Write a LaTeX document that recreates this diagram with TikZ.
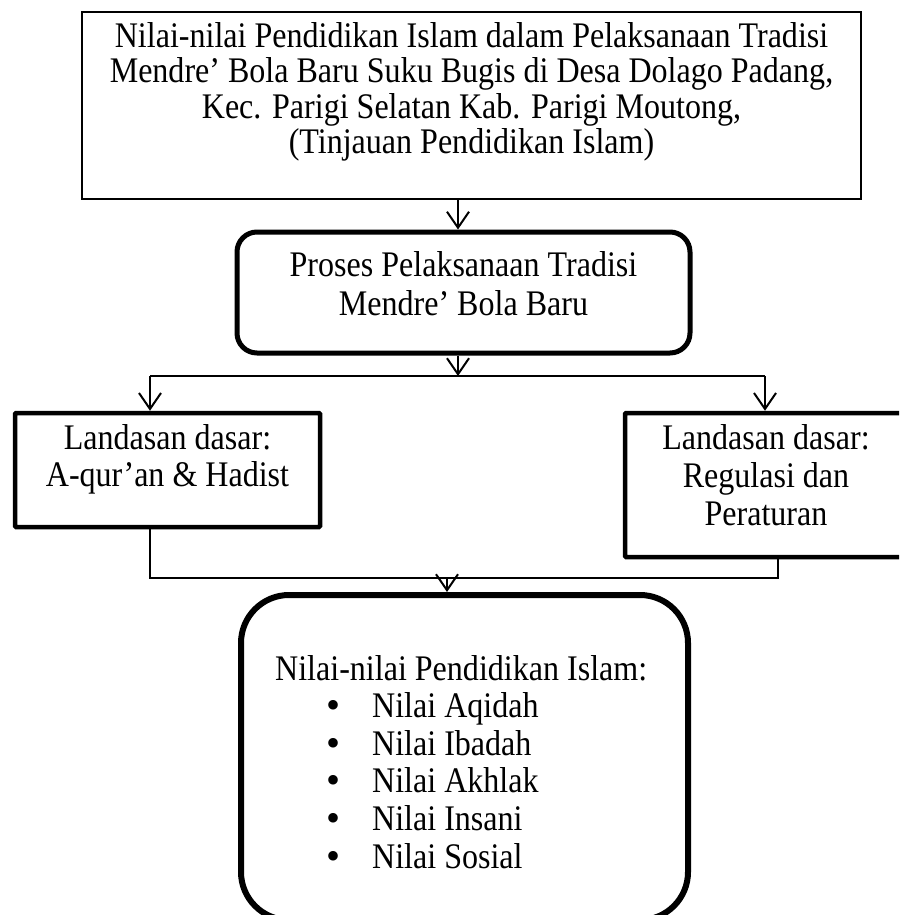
\documentclass[tikz,border=0pt]{standalone}
\usepackage{fontspec}
\setmainfont[FakeStretch=0.89]{Liberation Serif}
\newfontfamily\bulletfont{Liberation Serif}
\usetikzlibrary{arrows.meta}
\newcommand{\mlines}[1]{\begin{tabular}[t]{@{}c@{}}#1\end{tabular}}
\newcommand{\bitem}[1]{\hspace*{51pt}\makebox[46pt][l]{\raisebox{-1pt}{\bulletfont\fontsize{40}{38}\selectfont •}}#1}
\begin{document}
\begin{tikzpicture}[x=1pt,y=-1pt,
  txt/.style={inner sep=0pt, anchor=base, font=\fontsize{36}{38}\selectfont},
  box/.style={draw, inner sep=0pt},
  conn/.style={line width=2pt},
  arr/.style={line width=2pt, -{Straight Barb[length=16pt,width=22pt,line width=2pt]}}]
\useasboundingbox (0,0) rectangle (899,915);
\clip (0,0) rectangle (899,915);

% boxes
\node[box, line width=2.2pt, minimum width=779pt, minimum height=187pt] (top) at (471.5,105.5) {};
\node[box, line width=5pt, rounded corners=20pt, minimum width=453pt, minimum height=121pt] (proc) at (463.5,292.5) {};
\node[box, line width=4.5pt, rounded corners=1pt, minimum width=305pt, minimum height=114pt] (left) at (167.5,470) {};
\node[box, line width=4.5pt, rounded corners=1pt, minimum width=282pt, minimum height=144pt] (right) at (766,485) {};
\node[box, line width=6pt, rounded corners=48pt, minimum width=447pt, minimum height=325pt] (bot) at (464.5,757.5) {};

% texts
\node[txt, font=\fontsize{36}{34.7}\selectfont] (toptext) at (471.5,47.5) {\mlines{Nilai-nilai Pendidikan Islam dalam Pelaksanaan Tradisi\\Mendre’ Bola Baru Suku Bugis di Desa Dolago Padang,\\Kec. Parigi Selatan Kab. Parigi Moutong,\\(Tinjauan Pendidikan Islam)}};
\node[txt, font=\fontsize{36}{39}\selectfont] (proctext) at (463.5,276) {\mlines{Proses Pelaksanaan Tradisi\\Mendre’ Bola Baru}};
\node[txt, font=\fontsize{36}{37}\selectfont] (lefttext) at (167.5,449) {\mlines{Landasan dasar:\\A-qur’an \& Hadist}};
\node[txt] (righttext) at (766,449) {\mlines{Landasan dasar:\\Regulasi dan\\Peraturan}};
\node[txt, anchor=base west, font=\fontsize{36}{37.6}\selectfont] (bottext) at (275,680) {\begin{tabular}[t]{@{}l@{}}Nilai-nilai Pendidikan Islam:\\
\bitem{Nilai Aqidah}\\
\bitem{Nilai Ibadah}\\
\bitem{Nilai Akhlak}\\
\bitem{Nilai Insani}\\
\bitem{Nilai Sosial}\end{tabular}};

% connectors
\coordinate (mid) at (458,376);
\coordinate (hl) at (150,376);
\coordinate (hr) at (765,376);
\coordinate (bl) at (150,578);
\coordinate (br) at (778,578);
\coordinate (bm) at (447,578);
\draw[arr] (mid |- top.south) -- (mid |- proc.north);
\draw[arr] (mid |- proc.south) -- (mid);
\draw[conn] (hl) -- (hr);
\draw[arr] (hl) -- (hl |- left.north);
\draw[arr] (hr) -- (hr |- right.north);
\draw[conn] (bl |- left.south) -- (bl) -- (br) -- (br |- right.south);
\draw[arr] (bm) -- (bm |- bot.north);
\end{tikzpicture}
\end{document}
